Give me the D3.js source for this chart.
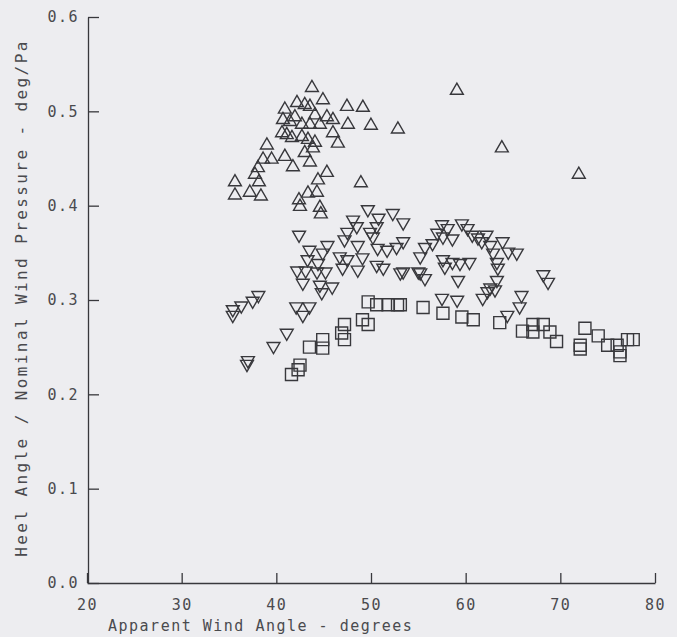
<!DOCTYPE html>
<html><head><meta charset="utf-8">
<script src="https://cdn.jsdelivr.net/npm/d3@7"></script>
<style>
html,body{margin:0;padding:0;background:#ededf0;}
svg{display:block;}
text{font-family:"DejaVu Sans Mono","Liberation Mono",monospace;fill:#4a4a4e;}
</style></head><body>
<svg id="c" width="677" height="637"></svg>
<script>
const xTicks = [20,30,40,50,60,70,80];
const yTicks = [0,0.1,0.2,0.3,0.4,0.5,0.6];
const xTitle = "Apparent Wind Angle - degrees";
const yTitle = "Heel Angle / Nominal Wind Pressure - deg/Pa";

// Series: triangles up
const upSeries = [
[43.76,0.525],[44.92,0.512],[47.46,0.505],[49.14,0.504],[49.99,0.485],[47.56,0.486],[45.98,0.491],
[45.34,0.494],[45.98,0.477],[46.5,0.466],[40.9,0.502],[42.18,0.509],[43.0,0.507],[43.55,0.505],
[44.08,0.496],[40.7,0.491],[41.44,0.489],[41.96,0.494],[42.7,0.486],[43.55,0.486],[44.6,0.486],
[40.6,0.477],[41.1,0.475],[41.65,0.472],[42.7,0.473],[43.34,0.47],[44.08,0.467],[39.0,0.464],
[43.0,0.456],[43.87,0.461],[40.9,0.452],[41.75,0.441],[43.55,0.446],[38.6,0.449],[39.5,0.449],
[38.06,0.44],[37.74,0.433],[45.34,0.435],[44.4,0.427],[35.63,0.425],[38.16,0.425],[35.63,0.411],
[37.2,0.414],[38.37,0.41],[42.39,0.406],[42.5,0.399],[43.34,0.413],[44.29,0.414],[44.6,0.398],
[44.7,0.391],[48.93,0.424],[59.07,0.522],[52.84,0.481],[63.82,0.461],[71.95,0.433]
];
// Series: triangles down
const downSeries = [
[49.67,0.396],[50.8,0.387],[52.3,0.392],[53.4,0.382],[48.1,0.385],[48.5,0.378],[50.6,0.378],
[49.9,0.372],[50.2,0.367],[47.5,0.372],[47.2,0.364],[45.4,0.358],[42.4,0.369],[48.6,0.358],
[50.7,0.355],[51.7,0.353],[52.7,0.356],[53.4,0.362],[43.5,0.353],[44.9,0.35],[46.7,0.346],
[47.5,0.343],[49.1,0.345],[43.3,0.343],[44.4,0.339],[50.6,0.337],[51.3,0.334],[47.0,0.334],
[48.6,0.332],[42.2,0.331],[43.1,0.331],[44.3,0.33],[45.2,0.33],[53.1,0.329],[55.0,0.33],
[42.8,0.318],[44.6,0.316],[45.9,0.314],[44.8,0.308],[38.1,0.305],[37.5,0.299],[36.3,0.294],
[35.4,0.29],[35.4,0.284],[42.1,0.293],[43.5,0.293],[42.8,0.284],[41.1,0.265],[39.7,0.251],
[37.0,0.236],[36.9,0.232],
[57.5,0.38],[58.1,0.376],[59.6,0.381],[60.2,0.376],[57.0,0.371],[57.6,0.367],[58.6,0.365],
[60.7,0.369],[61.3,0.366],[62.2,0.369],[55.7,0.356],[56.5,0.36],[61.7,0.362],[62.6,0.358],
[63.9,0.362],[64.5,0.351],[65.4,0.35],[55.2,0.346],[62.9,0.35],[63.3,0.34],[57.6,0.343],
[58.6,0.34],[59.4,0.339],[60.4,0.34],[57.8,0.335],[55.2,0.329],[55.7,0.323],[53.4,0.33],
[59.2,0.321],[63.4,0.334],[63.3,0.321],[62.6,0.313],[61.8,0.302],[62.3,0.309],[63.1,0.311],
[57.5,0.302],[59.1,0.3],[65.9,0.305],[65.7,0.293],[64.4,0.284],[68.2,0.327],[68.7,0.319]
];
// Series: squares
const squareSeries = [
[49.7,0.298],[50.6,0.295],[51.8,0.295],[52.8,0.295],[55.5,0.292],[49.1,0.279],[49.7,0.274],
[47.2,0.274],[46.9,0.265],[47.2,0.258],[44.9,0.258],[44.9,0.249],[43.5,0.25],[42.5,0.231],
[42.3,0.226],[41.6,0.221],[53.1,0.295],[57.6,0.286],[59.6,0.282],[60.8,0.279],[63.6,0.276],
[66.0,0.267],[67.1,0.274],[67.1,0.266],[68.2,0.274],[68.9,0.266],[69.6,0.256],[72.6,0.27],
[74.0,0.262],[72.1,0.252],[72.1,0.248],[75.0,0.252],[76.0,0.252],[76.3,0.241],[76.3,0.245],
[77.1,0.258],[77.7,0.258]
];

const svg = d3.select("#c");
const x = d3.scaleLinear().domain([20,80]).range([87,655]);
const y = d3.scaleLinear().domain([0,0.6]).range([583,17]);

const ink = "#38383c";

const gx = svg.append("g").attr("transform","translate(0,583)")
  .call(d3.axisBottom(x).tickValues(xTicks).tickSize(-10).tickSizeOuter(0).tickPadding(16).tickFormat(d3.format("d")));
const gy = svg.append("g").attr("transform","translate(88,0)")
  .call(d3.axisLeft(y).tickValues(yTicks).tickSize(-11).tickSizeOuter(0).tickPadding(11).tickFormat(d3.format(".1f")));
[gx,gy].forEach(g=>{
  g.select(".domain").attr("stroke",ink).attr("stroke-width",1.3);
  g.selectAll(".tick line").attr("stroke",ink).attr("stroke-width",1.3);
  g.selectAll(".tick text").attr("font-size",15).attr("letter-spacing","1.5px")
    .attr("fill","#4a4a4e").style("font-family","'DejaVu Sans Mono',monospace");
});
gy.selectAll(".tick text").attr("x",-9);

svg.append("text").attr("x",108).attr("y",631).attr("font-size",15)
  .attr("letter-spacing","1.5px").text(xTitle);
svg.append("text").attr("transform","translate(27,298) rotate(-90)")
  .attr("text-anchor","middle").attr("font-size",16).attr("letter-spacing","2.4px").text(yTitle);

const tri = d3.symbol().type(d3.symbolTriangle).size(72);
const sq = d3.symbol().type(d3.symbolSquare).size(144);
const mk = svg.append("g").attr("fill","none").attr("stroke",ink).attr("stroke-width",1.4);
mk.selectAll(".up").data(upSeries).join("path").attr("class","up").attr("d",tri)
  .attr("transform",d=>`translate(${x(d[0])},${y(d[1])})`);
mk.selectAll(".dn").data(downSeries).join("path").attr("class","dn").attr("d",tri)
  .attr("transform",d=>`translate(${x(d[0])},${y(d[1])}) rotate(180)`);
mk.selectAll(".sq").data(squareSeries).join("path").attr("class","sq").attr("d",sq)
  .attr("transform",d=>`translate(${x(d[0])},${y(d[1])})`);
</script></body></html>
